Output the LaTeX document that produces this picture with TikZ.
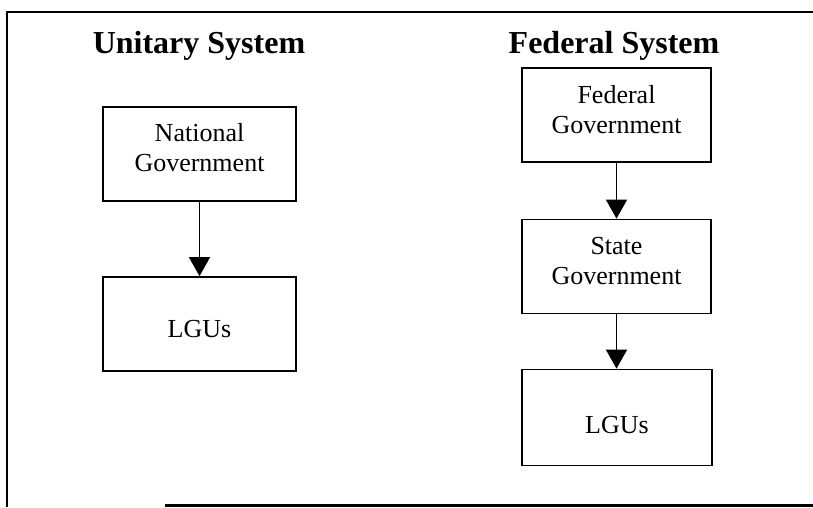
\documentclass[tikz,border=0pt]{standalone}
\usepackage{fontspec}
\setmainfont{Liberation Serif}
\usetikzlibrary{arrows.meta}
\tikzset{
  govbox/.style={draw=black, line width=1.8pt, minimum width=#1, minimum height=94pt, inner sep=0pt},
  govbox/.default=193pt,
  boxtext/.style={inner sep=0pt, align=center, font=\fontsize{26}{30}\selectfont},
  title/.style={anchor=base, font=\fontsize{32}{38}\selectfont\bfseries},
  flow/.style={line width=1.9pt, -{Triangle[length=19pt, width=21pt]}},
  frame/.style={line width=2.2pt}
}
\begin{document}
\begin{tikzpicture}[x=1pt,y=-1pt]
\useasboundingbox (0,0) rectangle (813,507);
\fill[white] (0,0) rectangle (813,507);
% frame
\draw[frame] (813,12) -- (7,12) -- (7,507);
\draw[frame] (165,505.5) -- (813,505.5);
% titles
\node[title] (ut) at (199,53) {Unitary System};
\node[title] (ft) at (614,53) {Federal System};
% unitary
\node[govbox] (nat) at (199.5,154) {};
\node[boxtext] (natt) at (199.5,148) {National\\Government};
\node[govbox] (lgu1) at (199.5,324) {};
\node[boxtext] (lgu1t) at (199.5,329) {LGUs};
% federal
\node[govbox=189pt] (fed) at (616.5,115) {};
\node[boxtext] (fedt) at (616.5,110) {Federal\\Government};
\node[govbox=189pt] (state) at (616.5,266.5) {};
\node[boxtext] (statet) at (616.5,261.5) {State\\Government};
\node[govbox=190pt, minimum height=96pt] (lgu2) at (617,417.5) {};
\node[boxtext] (lgu2t) at (617,425) {LGUs};
% arrows
\draw[flow] (nat.south) -- (lgu1.north);
\draw[flow] (fed.south) -- (state.north);
\draw[flow] (state.south) -- (state.south |- lgu2.north);
\end{tikzpicture}
\end{document}
